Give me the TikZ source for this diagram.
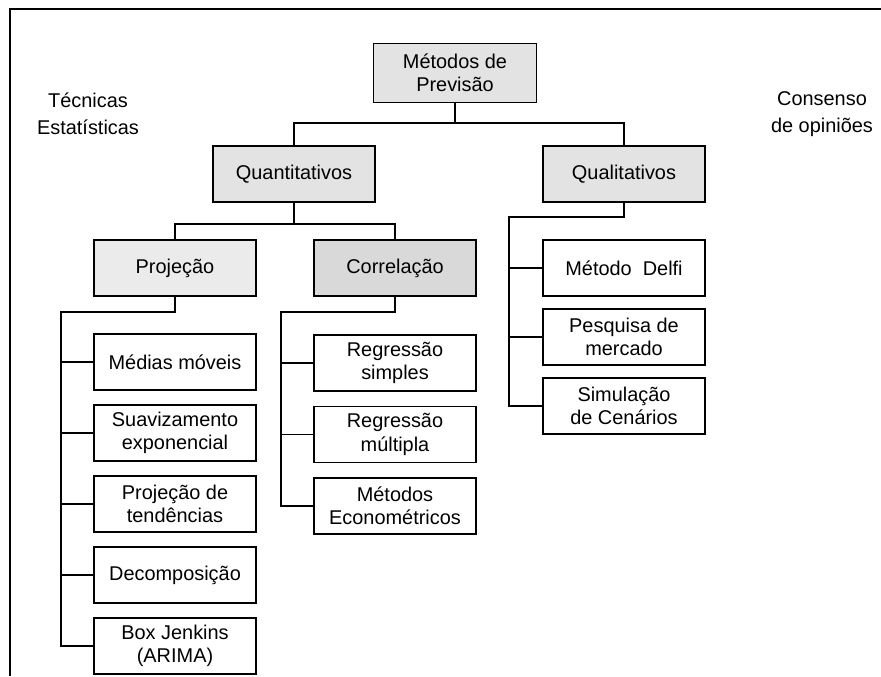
\documentclass[tikz,border=0pt]{standalone}
\usepackage{fontspec}
\setmainfont{Liberation Sans}
\usepackage{xcolor}
\usetikzlibrary{positioning}
\tikzstyle{item box}=[
        draw = black,
        line width = 1.4pt,
        fill = white,
        minimum width = 4.86cm,
        minimum height = 1.68cm,
        align = center,
        font = \fontsize{17}{20}\selectfont
    ]
\tikzstyle{group box}=[
    item box,
    fill = black!11
]
\tikzstyle{side label}=[
    align = center,
    font = \fontsize{17}{23}\selectfont
]

\begin{document}
\begin{tikzpicture}[x=0.03cm, y=-0.03cm, node distance={2.13cm}, line width=1.2pt]
        \useasboundingbox (0,0) rectangle (881,676);
        \draw[line width=1.8pt] (881,9) -- (10,9) -- (10,676);

        \node[group box, minimum width=4.89cm, minimum height=1.77cm] (metodos) at (455,73) {Métodos de\\Previsão};
        \node[side label] (tecnicas) at (88,114) {Técnicas\\Estatísticas};
        \node[side label] (consenso) at (822,114) {Consenso\\de opiniões};

        \node[group box] (quanti) at (294,174) {Quantitativos};
        \node[group box] (quali) at (624,174) {Qualitativos};
        \node[group box, fill=black!8] (proj) at (175,268) {Projeção};
        \node[group box, fill=black!15] (corr) at (395,268) {Correlação};

        \node[item box] (medias) at (175,362) {Médias móveis};
        \node[item box] (suav) [below of = medias] {Suavizamento\\exponencial};
        \node[item box] (tend) [below of = suav] {Projeção de\\tendências};
        \node[item box] (decomp) [below of = tend] {Decomposição};
        \node[item box] (boxj) [below of = decomp] {Box Jenkins\\(ARIMA)};

        \node[item box] (regs) at (395,363) {Regressão\\simples};
        \node[item box] (regm) [below of = regs, node distance=2.145cm] {Regressão\\múltipla};
        \node[item box] (econ) [below of = regm, node distance=2.145cm] {Métodos\\Econométricos};

        \node[item box] (delfi) at (624,268) {Método~~Delfi};
        \node[item box] (pesq) [below of = delfi, node distance=2.07cm] {Pesquisa de\\mercado};
        \node[item box] (simul) [below of = pesq, node distance=2.07cm] {Simulação\\de Cenários};

        % tree links
        \coordinate (split1) at (455,123);
        \coordinate (split2) at (294,224);
        \coordinate (projlist) at (61,312);
        \coordinate (corrlist) at (281,312);
        \coordinate (qualilist) at (509,217);

        \draw (metodos) -- (split1);
        \draw (quanti) |- (split1) -| (quali);
        \draw (quanti) -- (split2);
        \draw (proj) |- (split2) -| (corr);

        \draw (proj) |- (projlist) |- (boxj);
        \foreach \n in {medias, suav, tend, decomp}
            \draw (projlist |- \n) -- (\n);
        \draw (corr) |- (corrlist) |- (econ);
        \foreach \n in {regs, regm}
            \draw (corrlist |- \n) -- (\n);
        \draw (quali) |- (qualilist) |- (simul);
        \foreach \n in {delfi, pesq}
            \draw (qualilist |- \n) -- (\n);

    \end{tikzpicture}
\end{document}
